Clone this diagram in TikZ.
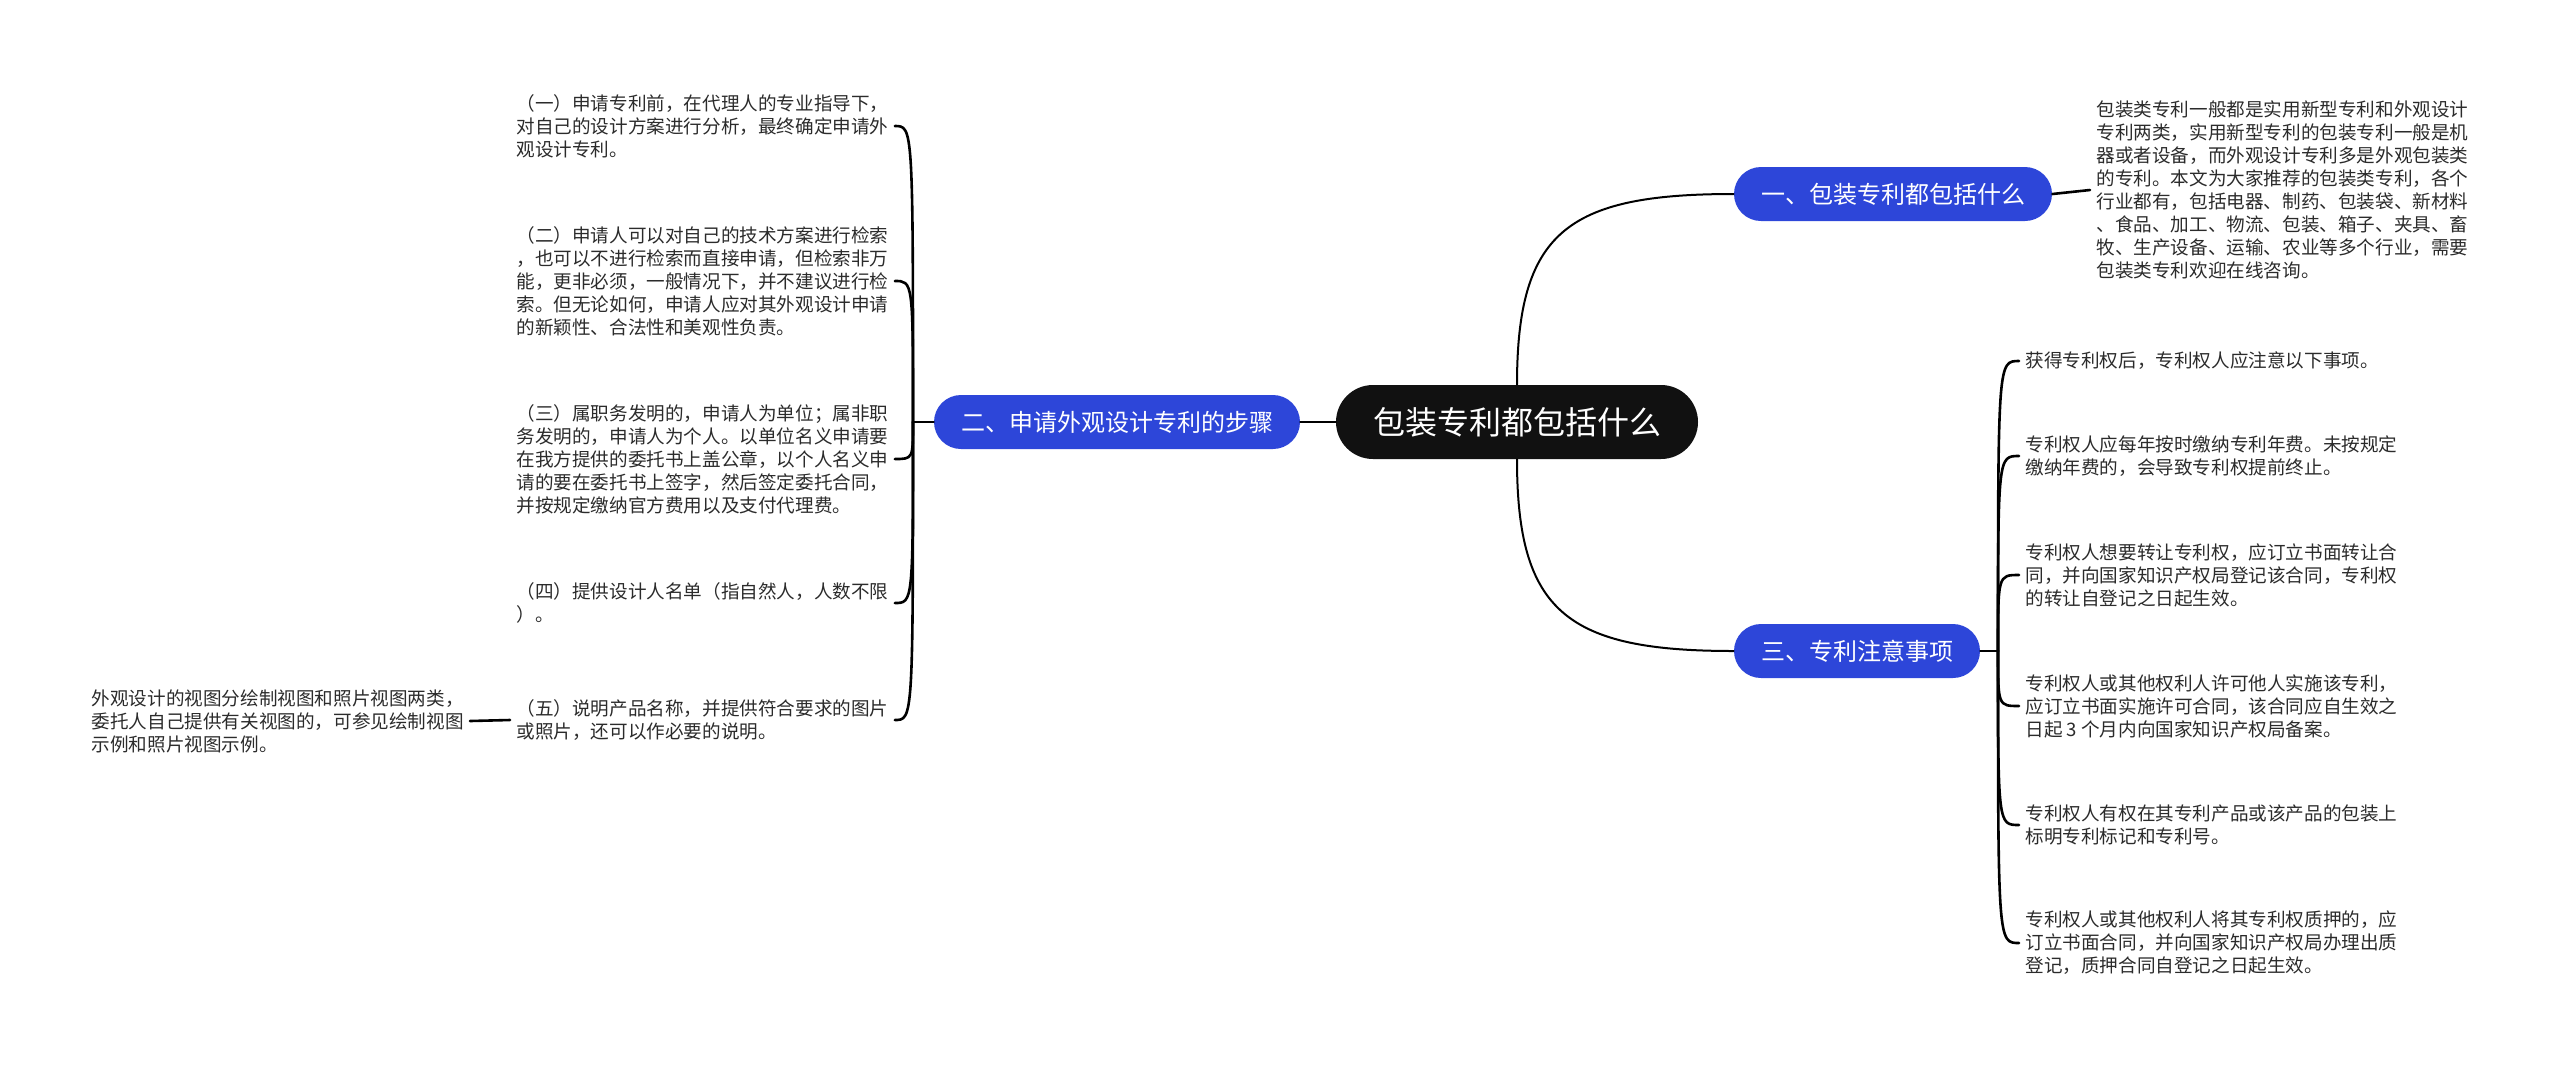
\documentclass[tikz,border=0pt]{standalone}
\usepackage{fontspec}
\setmainfont{Noto Sans CJK SC}
\definecolor{astblau}{HTML}{2D46D9}
\definecolor{wurzelschwarz}{HTML}{111111}
\definecolor{textgrau}{HTML}{2B2B2B}

\begin{document}
\begin{tikzpicture}[x=0.5pt, y=-0.5pt,
    wurzel/.style={fill=wurzelschwarz, text=white, rounded corners=18.5pt, minimum height=37pt, inner xsep=18.5pt, font=\fontsize{16}{19}\selectfont},
    ast/.style={fill=astblau, text=white, rounded corners=13.5pt, minimum height=27pt, inner xsep=13.5pt, font=\fontsize{12}{14}\selectfont},
    blatt/.style={text=textgrau, align=left, inner xsep=3pt, inner ysep=0pt, font=\fontsize{9.3}{11.5}\selectfont},
    verb/.style={line width=1.3pt, line cap=round}]
    \useasboundingbox (0,0) rectangle (2560,1067);

    % Mitte und Aeste
    \node[wurzel] (mitte) at (1517,422) {包装专利都包括什么};
    \node[ast] (ast1) at (1893,194) {一、包装专利都包括什么};
    \node[ast] (ast2) at (1117,422) {二、申请外观设计专利的步骤};
    \node[ast] (ast3) at (1857,651) {三、专利注意事项};

    % Blatt rechts oben
    \node[blatt, anchor=west] (r0) at (2090,190) {包装类专利一般都是实用新型专利和外观设计\\专利两类，实用新型专利的包装专利一般是机\\器或者设备，而外观设计专利多是外观包装类\\的专利。本文为大家推荐的包装类专利，各个\\行业都有，包括电器、制药、包装袋、新材料\\、食品、加工、物流、包装、箱子、夹具、畜\\牧、生产设备、运输、农业等多个行业，需要\\包装类专利欢迎在线咨询。};

    % Blaetter links
    \node[blatt, anchor=west] (l1) at (510,126) {（一）申请专利前，在代理人的专业指导下，\\对自己的设计方案进行分析，最终确定申请外\\观设计专利。};
    \node[blatt, anchor=west] (l2) at (510,281) {（二）申请人可以对自己的技术方案进行检索\\，也可以不进行检索而直接申请，但检索非万\\能，更非必须，一般情况下，并不建议进行检\\索。但无论如何，申请人应对其外观设计申请\\的新颖性、合法性和美观性负责。};
    \node[blatt, anchor=west] (l3) at (510,459) {（三）属职务发明的，申请人为单位；属非职\\务发明的，申请人为个人。以单位名义申请要\\在我方提供的委托书上盖公章，以个人名义申\\请的要在委托书上签字，然后签定委托合同，\\并按规定缴纳官方费用以及支付代理费。};
    \node[blatt, anchor=west] (l4) at (510,603) {（四）提供设计人名单（指自然人，人数不限\\）。};
    \node[blatt, anchor=west] (l5) at (510,720) {（五）说明产品名称，并提供符合要求的图片\\或照片，还可以作必要的说明。};
    \node[blatt, anchor=east] (l5a) at (470,721) {外观设计的视图分绘制视图和照片视图两类，\\委托人自己提供有关视图的，可参见绘制视图\\示例和照片视图示例。};

    % Blaetter rechts unten
    \node[blatt, anchor=west] (r1) at (2019,361) {获得专利权后，专利权人应注意以下事项。};
    \node[blatt, anchor=west] (r2) at (2019,456) {专利权人应每年按时缴纳专利年费。未按规定\\缴纳年费的，会导致专利权提前终止。};
    \node[blatt, anchor=west] (r3) at (2019,575) {专利权人想要转让专利权，应订立书面转让合\\同，并向国家知识产权局登记该合同，专利权\\的转让自登记之日起生效。};
    \node[blatt, anchor=west] (r4) at (2019,706) {专利权人或其他权利人许可他人实施该专利，\\应订立书面实施许可合同，该合同应自生效之\\日起 3 个月内向国家知识产权局备案。};
    \node[blatt, anchor=west] (r5) at (2019,825) {专利权人有权在其专利产品或该产品的包装上\\标明专利标记和专利号。};
    \node[blatt, anchor=west] (r6) at (2019,943) {专利权人或其他权利人将其专利权质押的，应\\订立书面合同，并向国家知识产权局办理出质\\登记，质押合同自登记之日起生效。};

    % Verbindungen
    \draw[verb, line width=1pt] (mitte.north) .. controls (1517,232) and (1567,194) .. (ast1.west);
    \draw[verb, line width=1pt] (mitte.south) .. controls (1517,612) and (1567,651) .. (ast3.west);
    \draw[verb] (mitte.west) -- (ast2.east);
    \draw[verb] (ast1.east) -- (r0.west);
    \draw[verb] (l5.west) -- (l5a.east);

    \coordinate (s2) at (913,422);
    \coordinate (s3) at (1998,651);
    \draw[verb] (ast2.west) -- (s2);
    \draw[verb] (ast3.east) -- (s3);
    \foreach \n in {l1,l2,l3,l4,l5}
      \draw[verb] (s2) .. controls (s2 |- \n.east) and (s2 |- \n.east) .. (\n.east);
    \foreach \n in {r1,r2,r3,r4,r5,r6}
      \draw[verb] (s3) .. controls (s3 |- \n.west) and (s3 |- \n.west) .. (\n.west);
\end{tikzpicture}
\end{document}
